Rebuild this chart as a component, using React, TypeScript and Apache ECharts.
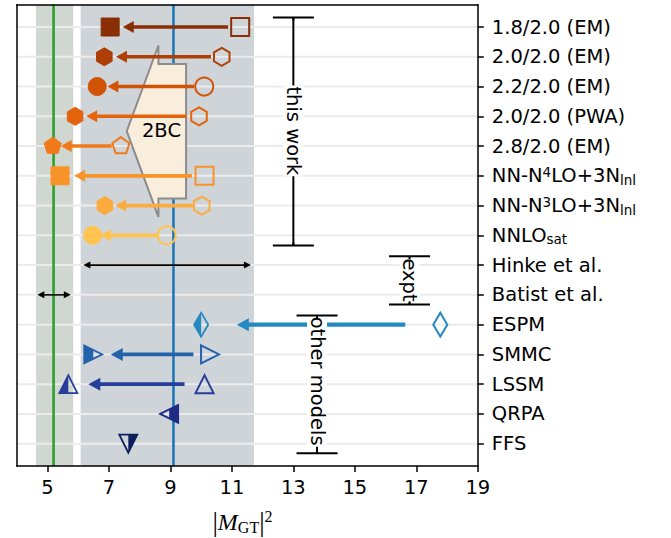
import React, { useEffect, useRef } from 'react';
import * as echarts from 'echarts';

// ---------- data ----------
const rowLabels = [
  '1.8/2.0 (EM)', '2.0/2.0 (EM)', '2.2/2.0 (EM)', '2.0/2.0 (PWA)', '2.8/2.0 (EM)',
  'NN-N{sup|4}LO+3N{sub|lnl}', 'NN-N{sup|3}LO+3N{sub|lnl}', 'NNLO{sub|sat}',
  'Hinke et al.', 'Batist et al.', 'ESPM', 'SMMC', 'LSSM', 'QRPA', 'FFS',
];
const rowIndex = rowLabels.map((_, i) => i);
const xTickValues = [5, 7, 9, 11, 13, 15, 17, 19];

// "this work" rows 0..7: bare value (open) -> with 2BC (filled)
const thisWorkRows = [0, 1, 2, 3, 4, 5, 6, 7];
const bareValues = [11.27, 10.67, 10.10, 9.93, 7.39, 10.11, 10.02, 8.88];
const withTwoBCValues = [7.04, 6.85, 6.62, 5.90, 5.17, 5.41, 6.87, 6.47];
const thisWorkArrowFrom = [10.88, 10.32, 9.77, 9.53, 7.09, 9.70, 9.73, 8.64];
const thisWorkArrowTo = [7.45, 7.23, 6.95, 6.26, 5.43, 5.87, 7.20, 6.71];
const thisWorkMarkers = ['square', 'hexagon', 'circle', 'hexagon', 'pentagon', 'square', 'hexagon', 'circle'];
const thisWorkColors = ['#8a2f05', '#ad3e05', '#d15306', '#e4640e', '#f07a1a', '#f8932a', '#fcac3e', '#fec44f'];

// other models rows 10..14
const otherRows = [10, 11, 12, 13, 14];
const otherFinal = [10.00, 6.49, 5.68, 8.96, 7.63];
const otherInitial = [17.78, 10.29, 10.11, null, null];
const otherArrowFrom = [16.64, 9.75, 9.46, null, null];
const otherArrowTo = [11.16, 7.06, 6.33, null, null];
const otherMarkers = ['thinDiamond', 'triRight', 'triUp', 'triLeft', 'triDown'];
const otherHalf = ['left', 'left', 'left', 'right', 'right'];
const otherColors = ['#2489c0', '#2462ab', '#253f9b', '#1e2c85', '#0b1f5c'];

// experiment rows 8..9
const exptRows = [8, 9];
const exptLow = [6.17, 4.67];
const exptHigh = [11.62, 5.76];
const exptBandLow = [6.08, 4.63];
const exptBandHigh = [11.72, 5.84];
const exptCentral = [9.10, 5.20];
const exptBandColors = ['#cfd4d9', '#d0d7d0'];
const exptLineColors = ['#1f77b4', '#2ca02c'];

// 2BC block arrow (data units)
const twoBCTail = 9.51;
const twoBCHeadBase = 8.61;
const twoBCTip = 7.58;
const twoBCRow = 3.5;
const twoBCBodyHalf = 2.26;
const twoBCHeadHalf = 2.88;
const twoBCLabel = [8.71, 3.47];

// brackets
const bracketNames = ['this work', 'expt', 'other models'];
const bracketX = [13.0, 16.78, 13.77];
const bracketTop = [-0.32, 7.70, 9.69];
const bracketBottom = [7.34, 9.32, 14.32];
const bracketTextRow = [3.49, 8.5, 11.9];

const X_MIN = 4;
const X_MAX = 19;
const Y_MIN = -0.75;
const Y_MAX = 14.75;

// ---------- helpers ----------
const FONT = 'DejaVu Sans';
const FS = 19.5;
const MS = 9;

function shapePoints(kind: string, cx: number, cy: number, s: number): number[][] {
  const reg = (n: number, r: number) =>
    Array.from({ length: n }, (_, k) => {
      const a = -Math.PI / 2 + (k * 2 * Math.PI) / n;
      return [cx + r * Math.cos(a), cy + r * Math.sin(a)];
    });
  switch (kind) {
    case 'square': return [[cx - s, cy - s], [cx + s, cy - s], [cx + s, cy + s], [cx - s, cy + s]];
    case 'hexagon': return reg(6, s);
    case 'pentagon': return reg(5, s);
    case 'triUp': return [[cx, cy - s], [cx + s, cy + s], [cx - s, cy + s]];
    case 'triDown': return [[cx - s, cy - s], [cx + s, cy - s], [cx, cy + s]];
    case 'triLeft': return [[cx - s, cy], [cx + s, cy - s], [cx + s, cy + s]];
    case 'triRight': return [[cx + s, cy], [cx - s, cy + s], [cx - s, cy - s]];
    case 'thinDiamond': return [[cx, cy - 1.33 * s], [cx + 0.78 * s, cy], [cx, cy + 1.33 * s], [cx - 0.78 * s, cy]];
    default: return reg(4, s);
  }
}

function clipHalf(pts: number[][], cx: number, side: string): number[][] {
  const inside = (p: number[]) => (side === 'left' ? p[0] <= cx + 1e-9 : p[0] >= cx - 1e-9);
  const out: number[][] = [];
  for (let i = 0; i < pts.length; i++) {
    const a = pts[i];
    const b = pts[(i + 1) % pts.length];
    const ia = inside(a);
    const ib = inside(b);
    if (ia) out.push(a);
    if (ia !== ib) {
      const t = (cx - a[0]) / (b[0] - a[0]);
      out.push([cx, a[1] + t * (b[1] - a[1])]);
    }
  }
  return out;
}

function markerEls(kind: string, cx: number, cy: number, color: string, mode: string): any[] {
  if (kind === 'circle') {
    return [{
      type: 'circle', shape: { cx, cy, r: MS },
      style: { fill: mode === 'filled' ? color : 'none', stroke: color, lineWidth: mode === 'filled' ? 1 : 2 },
    }];
  }
  const pts = shapePoints(kind, cx, cy, MS);
  if (mode === 'left' || mode === 'right') {
    return [
      { type: 'polygon', shape: { points: clipHalf(pts, cx, mode) }, style: { fill: color } },
      { type: 'polygon', shape: { points: pts }, style: { fill: 'none', stroke: color, lineWidth: 1.8 } },
    ];
  }
  return [{
    type: 'polygon', shape: { points: pts },
    style: { fill: mode === 'filled' ? color : 'none', stroke: color, lineWidth: mode === 'filled' ? 1 : 2 },
  }];
}

function arrowEls(p1: number[], p2: number[], color: string, lw: number, headLen: number, headHalf: number, both: boolean): any[] {
  const dx = p2[0] - p1[0];
  const dy = p2[1] - p1[1];
  const L = Math.hypot(dx, dy) || 1;
  const ux = dx / L;
  const uy = dy / L;
  const nx = -uy;
  const ny = ux;
  const b2 = [p2[0] - ux * headLen, p2[1] - uy * headLen];
  let start = p1;
  const els: any[] = [];
  if (both) {
    const b1 = [p1[0] + ux * headLen, p1[1] + uy * headLen];
    start = [b1[0] - ux, b1[1] - uy];
    els.push({
      type: 'polygon',
      shape: { points: [p1, [b1[0] + nx * headHalf, b1[1] + ny * headHalf], [b1[0] - nx * headHalf, b1[1] - ny * headHalf]] },
      style: { fill: color },
    });
  }
  els.push({
    type: 'line',
    shape: { x1: start[0], y1: start[1], x2: b2[0] + ux, y2: b2[1] + uy },
    style: { stroke: color, lineWidth: lw },
  });
  els.push({
    type: 'polygon',
    shape: { points: [p2, [b2[0] + nx * headHalf, b2[1] + ny * headHalf], [b2[0] - nx * headHalf, b2[1] - ny * headHalf]] },
    style: { fill: color },
  });
  return els;
}

function buildOption(): any {
  const frame = { color: '#000', width: 1.5 };
  const custom = (z: number, data: any[], renderItem: any) => ({
    type: 'custom', z, silent: true, data, renderItem, clip: false,
  });

  return {
    animation: false,
    backgroundColor: '#ffffff',
    grid: { left: 16.7, right: 193.2, top: 4.7, bottom: 72, containLabel: false, outerBoundsMode: 'none' },
    xAxis: [
      {
        type: 'value', position: 'bottom', min: X_MIN, max: X_MAX, z: 10,
        axisLine: { show: true, onZero: false, lineStyle: frame },
        axisTick: { show: true, customValues: xTickValues, length: 6, lineStyle: frame },
        axisLabel: { show: true, customValues: xTickValues, margin: 11, fontSize: FS, fontFamily: FONT, color: '#000' },
        splitLine: { show: false },
      },
      {
        type: 'value', position: 'top', min: X_MIN, max: X_MAX, z: 10,
        axisLine: { show: true, onZero: false, lineStyle: frame },
        axisTick: { show: false }, axisLabel: { show: false }, splitLine: { show: false },
      },
    ],
    yAxis: [
      {
        type: 'value', position: 'right', inverse: true, min: Y_MIN, max: Y_MAX, z: 10,
        axisLine: { show: true, onZero: false, lineStyle: frame },
        axisTick: { show: true, customValues: rowIndex, length: 6, lineStyle: frame },
        axisLabel: {
          show: true, customValues: rowIndex, margin: 14,
          fontSize: FS, fontFamily: FONT, color: '#000', lineHeight: 22,
          formatter: (v: number) => rowLabels[Math.round(v)] ?? '',
          rich: {
            sup: { fontSize: 13.5, fontFamily: FONT, color: '#000', lineHeight: 10.6, verticalAlign: 'top' },
            sub: { fontSize: 13.5, fontFamily: FONT, color: '#000', lineHeight: 13.4, verticalAlign: 'bottom' },
          },
        },
        splitLine: { show: false },
      },
      {
        type: 'value', position: 'left', inverse: true, min: Y_MIN, max: Y_MAX, z: 10,
        axisLine: { show: true, onZero: false, lineStyle: frame },
        axisTick: { show: false }, axisLabel: { show: false }, splitLine: { show: false },
      },
    ],
    graphic: [
      {
        type: 'text', x: 242.5, y: 521.5, silent: true,
        style: {
          text: '{b||}{m|M}{s|GT}{b||}{p|2}',
          align: 'center', verticalAlign: 'middle', textAlign: 'center', textVerticalAlign: 'middle',
          fill: '#000',
          rich: {
            b: { fontSize: 27, fontFamily: 'Liberation Serif', lineHeight: 27, fill: '#000' },
            m: { fontSize: 24, fontFamily: 'Liberation Serif', fontStyle: 'italic', lineHeight: 27, fill: '#000' },
            s: { fontSize: 16, fontFamily: 'Liberation Serif', lineHeight: 13.5, verticalAlign: 'bottom', fill: '#000' },
            p: { fontSize: 16, fontFamily: 'Liberation Serif', lineHeight: 18, verticalAlign: 'top', fill: '#000' },
          },
        },
      },
    ],
    series: [
      // background bands
      custom(1, exptBandLow.map((v, i) => [v, exptRows[i]]), (params: any, api: any) => {
        const i = params.dataIndex;
        const a = api.coord([exptBandLow[i], Y_MIN]);
        const b = api.coord([exptBandHigh[i], Y_MAX]);
        return { type: 'rect', shape: { x: a[0], y: a[1], width: b[0] - a[0], height: b[1] - a[1] }, style: { fill: exptBandColors[i] } };
      }),
      // horizontal grid lines
      custom(2, rowIndex.map((r) => [X_MIN, r]), (params: any, api: any) => {
        const r = rowIndex[params.dataIndex];
        const a = api.coord([X_MIN, r]);
        const b = api.coord([X_MAX, r]);
        return { type: 'line', shape: { x1: a[0], y1: a[1], x2: b[0], y2: b[1] }, style: { stroke: '#ebebeb', lineWidth: 2 } };
      }),
      // central experimental values
      custom(3, exptCentral.map((v, i) => [v, exptRows[i]]), (params: any, api: any) => {
        const i = params.dataIndex;
        const a = api.coord([exptCentral[i], Y_MIN]);
        const b = api.coord([exptCentral[i], Y_MAX]);
        return { type: 'line', shape: { x1: a[0], y1: a[1], x2: b[0], y2: b[1] }, style: { stroke: exptLineColors[i], lineWidth: 2.6 } };
      }),
      // 2BC block arrow
      custom(4, [[twoBCTip, twoBCRow]], (params: any, api: any) => {
        const P = (x: number, y: number) => api.coord([x, y]);
        const pts = [
          P(twoBCTail, twoBCRow - twoBCBodyHalf), P(twoBCHeadBase, twoBCRow - twoBCBodyHalf),
          P(twoBCHeadBase, twoBCRow - twoBCHeadHalf), P(twoBCTip, twoBCRow),
          P(twoBCHeadBase, twoBCRow + twoBCHeadHalf), P(twoBCHeadBase, twoBCRow + twoBCBodyHalf),
          P(twoBCTail, twoBCRow + twoBCBodyHalf),
        ];
        const tp = P(twoBCLabel[0], twoBCLabel[1]);
        return {
          type: 'group', children: [
            { type: 'polygon', shape: { points: pts }, style: { fill: '#f9eddb', stroke: '#8c8c8c', lineWidth: 2 } },
            {
              type: 'text', x: tp[0], y: tp[1],
              style: { text: '2BC', fontSize: FS, fontFamily: FONT, fill: '#000', align: 'center', verticalAlign: 'middle', textAlign: 'center', textVerticalAlign: 'middle' },
            },
          ],
        };
      }),
      // arrows: this work
      custom(5, thisWorkRows.map((r, i) => [thisWorkArrowTo[i], r]), (params: any, api: any) => {
        const i = params.dataIndex;
        const r = thisWorkRows[i];
        return { type: 'group', children: arrowEls(api.coord([thisWorkArrowFrom[i], r]), api.coord([thisWorkArrowTo[i], r]), thisWorkColors[i], 3.6, 11, 6, false) };
      }),
      // arrows: other models
      custom(5, otherRows.map((r, i) => [otherFinal[i], r]), (params: any, api: any) => {
        const i = params.dataIndex;
        const r = otherRows[i];
        if (otherArrowFrom[i] == null || otherArrowTo[i] == null) return { type: 'group', children: [] };
        return { type: 'group', children: arrowEls(api.coord([otherArrowFrom[i], r]), api.coord([otherArrowTo[i], r]), otherColors[i], i === 0 ? 4.2 : 3.8, 12, 6.5, false) };
      }),
      // arrows: experiment ranges
      custom(5, exptRows.map((r, i) => [exptLow[i], r]), (params: any, api: any) => {
        const i = params.dataIndex;
        const r = exptRows[i];
        return { type: 'group', children: arrowEls(api.coord([exptLow[i], r]), api.coord([exptHigh[i], r]), '#000', 1.6, 7, 3.5, true) };
      }),
      // markers: this work
      custom(6, thisWorkRows.map((r, i) => [withTwoBCValues[i], r]), (params: any, api: any) => {
        const i = params.dataIndex;
        const r = thisWorkRows[i];
        const o = api.coord([bareValues[i], r]);
        const f = api.coord([withTwoBCValues[i], r]);
        return {
          type: 'group', children: [
            ...markerEls(thisWorkMarkers[i], o[0], o[1], thisWorkColors[i], 'open'),
            ...markerEls(thisWorkMarkers[i], f[0], f[1], thisWorkColors[i], 'filled'),
          ],
        };
      }),
      // markers: other models
      custom(6, otherRows.map((r, i) => [otherFinal[i], r]), (params: any, api: any) => {
        const i = params.dataIndex;
        const r = otherRows[i];
        const children: any[] = [];
        if (otherInitial[i] != null) {
          const o = api.coord([otherInitial[i], r]);
          children.push(...markerEls(otherMarkers[i], o[0], o[1], otherColors[i], 'open'));
        }
        const f = api.coord([otherFinal[i], r]);
        children.push(...markerEls(otherMarkers[i], f[0], f[1], otherColors[i], otherHalf[i]));
        return { type: 'group', children };
      }),
      // brackets with labels (caps drawn after the label box)
      custom(7, bracketNames.map((_, i) => [bracketX[i], bracketTop[i]]), (params: any, api: any) => {
        const i = params.dataIndex;
        const top = api.coord([bracketX[i], bracketTop[i]]);
        const bot = api.coord([bracketX[i], bracketBottom[i]]);
        const mid = api.coord([bracketX[i], bracketTextRow[i]]);
        const cap = 20.5;
        const st = { stroke: '#000', lineWidth: 2 };
        return {
          type: 'group', children: [
            { type: 'line', shape: { x1: top[0], y1: top[1], x2: bot[0], y2: bot[1] }, style: st },
            {
              type: 'text', x: mid[0], y: mid[1], rotation: -Math.PI / 2,
              style: {
                text: bracketNames[i], fontSize: FS, fontFamily: FONT, fill: '#000',
                align: 'center', verticalAlign: 'middle', textAlign: 'center', textVerticalAlign: 'middle',
                backgroundColor: '#ffffff', padding: [0, 1],
              },
            },
            { type: 'line', shape: { x1: top[0] - cap, y1: top[1], x2: top[0] + cap, y2: top[1] }, style: st },
            { type: 'line', shape: { x1: bot[0] - cap, y1: bot[1], x2: bot[0] + cap, y2: bot[1] }, style: st },
            { type: 'line', shape: { x1: top[0], y1: top[1], x2: top[0], y2: top[1] + 3 }, style: st },
            { type: 'line', shape: { x1: bot[0], y1: bot[1] - 3, x2: bot[0], y2: bot[1] }, style: st },
          ],
        };
      }),
    ],
  };
}

export default function App() {
  const ref = useRef<HTMLDivElement>(null);
  useEffect(() => {
    if (!ref.current) return;
    const chart = echarts.init(ref.current, null, { renderer: 'svg' });
    chart.setOption(buildOption());
    return () => chart.dispose();
  }, []);
  return <div ref={ref} style={{ position: 'absolute', left: 0, top: 0, width: 671, height: 538 }} />;
}
